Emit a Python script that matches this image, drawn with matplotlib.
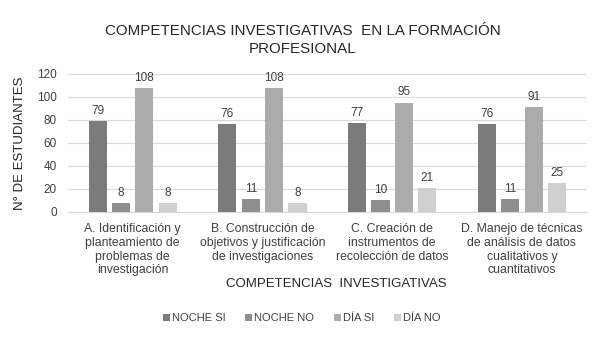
import numpy as np
import matplotlib
matplotlib.use("Agg")
import matplotlib.pyplot as plt

plt.rcParams['font.family'] = ['Liberation Sans', 'DejaVu Sans']

categories = [
    "A. Identificación y\nplanteamiento de\nproblemas de\ninvestigación",
    "B. Construcción de\nobjetivos y justificación\nde investigaciones",
    "C. Creación de\ninstrumentos de\nrecolección de datos",
    "D. Manejo de técnicas\nde análisis de datos\ncualitativos y\ncuantitativos",
]
series_names = ["NOCHE SI", "NOCHE NO", "DÍA SI", "DÍA NO"]
noche_si = [79, 76, 77, 76]
noche_no = [8, 11, 10, 11]
dia_si = [108, 108, 95, 91]
dia_no = [8, 8, 21, 25]
yticks = [0, 20, 40, 60, 80, 100, 120]

colors = ['#7b7b7b', '#8f8f8f', '#ababab', '#d0d0d0']
text_color = '#404040'

fig = plt.figure(figsize=(6, 3.39), dpi=100)
ax = fig.add_axes([0.113, 0.375, 0.865, 0.407])

x = np.arange(len(categories))
slot = 0.18
width = 0.14
for idx, (name, values) in enumerate(zip(series_names, [noche_si, noche_no, dia_si, dia_no])):
    pos = x + (idx - 1.5) * slot
    bars = ax.bar(pos, values, width, color=colors[idx], label=name, zorder=3)
    ax.bar_label(bars, padding=3, fontsize=8.5, color=text_color)

ax.set_xlim(-0.5, len(categories) - 0.5)
ax.set_ylim(0, 120)
ax.set_yticks(yticks)
ax.tick_params(axis='y', length=0, labelsize=8.5, labelcolor=text_color, pad=8)
ax.set_xticks(x)
ax.set_xticklabels(categories, fontsize=8.8, color=text_color, linespacing=1.2)
ax.tick_params(axis='x', length=0, pad=8)
ax.grid(axis='y', color='#d9d9d9', linewidth=0.8, zorder=0)
for side in ['top', 'right', 'left']:
    ax.spines[side].set_visible(False)
ax.spines['bottom'].set_color('#d9d9d9')

ax.set_ylabel("N° DE ESTUDIANTES", fontsize=9.5, color='#262626', labelpad=8)
fig.text(0.56, 0.163, "COMPETENCIAS  INVESTIGATIVAS", ha='center', va='center',
         fontsize=9.5, color='#262626')

fig.text(0.505, 0.882, "COMPETENCIAS INVESTIGATIVAS  EN LA FORMACIÓN\nPROFESIONAL",
         ha='center', va='center', fontsize=10.9, color='#262626', linespacing=1.45)

fig.legend(loc='center', bbox_to_anchor=(0.503, 0.062), ncol=4, frameon=False,
           fontsize=8, labelcolor=text_color, handlelength=0.6, handleheight=0.6,
           handletextpad=0.2, columnspacing=1.8)

fig.savefig("out.png", dpi=100)
